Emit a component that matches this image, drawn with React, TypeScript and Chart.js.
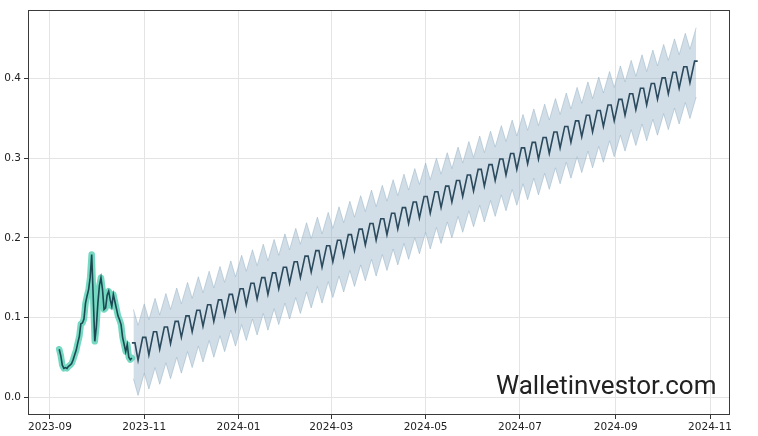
import React, { useEffect, useRef } from 'react';
import { Chart, registerables } from 'chart.js';

Chart.register(...registerables);

// ---- axis / tick data ----
const axisOrigin = '2023-09-01';
const xTickLabels = ['2023-09', '2023-11', '2024-01', '2024-03', '2024-05', '2024-07', '2024-09', '2024-11'];
const yTickValues = [0, 0.1, 0.2, 0.3, 0.4];

// ---- historical daily price (from 2023-09-07) ----
const histStart = '2023-09-07';
const histPrice = [
  0.060, 0.052, 0.040, 0.036, 0.037, 0.036, 0.0385, 0.040, 0.042, 0.047,
  0.053, 0.059, 0.068, 0.076, 0.092, 0.093, 0.098, 0.118, 0.127, 0.135,
  0.150, 0.179, 0.125, 0.070, 0.088, 0.118, 0.140, 0.150, 0.135, 0.110,
  0.112, 0.128, 0.133, 0.122, 0.114, 0.129, 0.120, 0.111, 0.102, 0.097,
  0.091, 0.075, 0.066, 0.057, 0.066, 0.050, 0.047, 0.049,
];

// ---- forecast, weekly cycle values (from 2023-10-24) ----
const forecastStart = '2023-10-24';
const weeklyHigh = [
  0.068, 0.075, 0.082, 0.088, 0.095, 0.102, 0.109, 0.116, 0.122, 0.129,
  0.136, 0.143, 0.150, 0.156, 0.163, 0.170, 0.177, 0.184, 0.190, 0.197,
  0.204, 0.211, 0.218, 0.224, 0.231, 0.238, 0.245, 0.252, 0.258, 0.265,
  0.272, 0.279, 0.286, 0.292, 0.299, 0.306, 0.313, 0.320, 0.326, 0.333,
  0.340, 0.347, 0.354, 0.360, 0.367, 0.374, 0.381, 0.388, 0.394, 0.401,
  0.408, 0.415, 0.422,
];
const weeklyLow = [
  0.046, 0.053, 0.060, 0.067, 0.075, 0.082, 0.089, 0.095, 0.102, 0.109,
  0.116, 0.123, 0.129, 0.136, 0.143, 0.150, 0.157, 0.163, 0.170, 0.177,
  0.184, 0.191, 0.197, 0.204, 0.211, 0.218, 0.225, 0.231, 0.238, 0.245,
  0.252, 0.259, 0.265, 0.272, 0.279, 0.286, 0.293, 0.299, 0.306, 0.313,
  0.320, 0.327, 0.333, 0.340, 0.347, 0.354, 0.361, 0.367, 0.374, 0.381,
  0.388, 0.395,
];
const upperHigh = [
  0.110, 0.117, 0.124, 0.130, 0.137, 0.144, 0.151, 0.158, 0.164, 0.171,
  0.178, 0.185, 0.192, 0.198, 0.205, 0.212, 0.219, 0.226, 0.232, 0.239,
  0.246, 0.253, 0.260, 0.266, 0.273, 0.280, 0.287, 0.294, 0.300, 0.307,
  0.314, 0.321, 0.328, 0.334, 0.341, 0.348, 0.355, 0.362, 0.368, 0.375,
  0.382, 0.389, 0.396, 0.402, 0.409, 0.416, 0.423, 0.430, 0.436, 0.443,
  0.450, 0.457, 0.464,
];
const upperLow = [
  0.090, 0.097, 0.103, 0.110, 0.117, 0.124, 0.131, 0.137, 0.144, 0.151,
  0.158, 0.165, 0.171, 0.178, 0.185, 0.192, 0.199, 0.205, 0.212, 0.219,
  0.226, 0.233, 0.239, 0.246, 0.253, 0.260, 0.267, 0.273, 0.280, 0.287,
  0.294, 0.301, 0.307, 0.314, 0.321, 0.328, 0.335, 0.341, 0.348, 0.355,
  0.362, 0.369, 0.375, 0.382, 0.389, 0.396, 0.403, 0.409, 0.416, 0.423,
  0.430, 0.437,
];
const lowerHigh = [
  0.023, 0.030, 0.037, 0.043, 0.050, 0.057, 0.064, 0.071, 0.077, 0.084,
  0.091, 0.098, 0.105, 0.111, 0.118, 0.125, 0.132, 0.139, 0.145, 0.152,
  0.159, 0.166, 0.173, 0.179, 0.186, 0.193, 0.200, 0.207, 0.213, 0.220,
  0.227, 0.234, 0.241, 0.247, 0.254, 0.261, 0.268, 0.275, 0.281, 0.288,
  0.295, 0.302, 0.309, 0.315, 0.322, 0.329, 0.336, 0.343, 0.349, 0.356,
  0.363, 0.370, 0.377,
];
const lowerLow = [
  0.002, 0.010, 0.016, 0.023, 0.030, 0.037, 0.044, 0.050, 0.057, 0.064,
  0.071, 0.078, 0.084, 0.091, 0.098, 0.105, 0.112, 0.118, 0.125, 0.132,
  0.139, 0.146, 0.152, 0.159, 0.166, 0.173, 0.180, 0.186, 0.193, 0.200,
  0.207, 0.214, 0.220, 0.227, 0.234, 0.241, 0.248, 0.254, 0.261, 0.268,
  0.275, 0.282, 0.288, 0.295, 0.302, 0.309, 0.316, 0.322, 0.329, 0.336,
  0.343, 0.350,
];

const watermark = 'Walletinvestor.com';

// ---- helpers ----
const DAY = 86400000;
const dayOf = (iso: string) =>
  (Date.parse(iso + 'T00:00:00Z') - Date.parse(axisOrigin + 'T00:00:00Z')) / DAY;

function buildData() {
  const h0 = dayOf(histStart);
  const hist = histPrice.map((v, i) => ({ x: h0 + i, y: v }));
  const f0 = dayOf(forecastStart);
  const center: { x: number; y: number }[] = [];
  const upper: { x: number; y: number }[] = [];
  const lower: { x: number; y: number }[] = [];
  weeklyHigh.forEach((v, k) => {
    if (k > 0) {
      center.push({ x: f0 + 7 * k - 3, y: weeklyLow[k - 1] });
      upper.push({ x: f0 + 7 * k - 3, y: upperLow[k - 1] });
      lower.push({ x: f0 + 7 * k - 3, y: lowerLow[k - 1] });
    }
    center.push({ x: f0 + 7 * k, y: v });
    center.push({ x: f0 + 7 * k + 2, y: v });
    upper.push({ x: f0 + 7 * k + 1, y: upperHigh[k] });
    lower.push({ x: f0 + 7 * k + 1, y: lowerHigh[k] });
  });
  return { hist, center, upper, lower };
}

const framePlugin = {
  id: 'frameAndMark',
  afterDraw(chart: any) {
    const { ctx, chartArea } = chart;
    ctx.save();
    ctx.strokeStyle = '#3a3a3a';
    ctx.lineWidth = 1;
    ctx.strokeRect(
      Math.round(chartArea.left) + 0.5,
      Math.round(chartArea.top) + 0.5,
      Math.round(chartArea.right - chartArea.left) - 1,
      Math.round(chartArea.bottom - chartArea.top) - 1
    );
    ctx.fillStyle = '#222222';
    ctx.font = '26px Roboto';
    ctx.textBaseline = 'alphabetic';
    ctx.textAlign = 'left';
    ctx.fillText(watermark, 496, 394);
    ctx.restore();
  },
};

export default function App() {
  const ref = useRef<HTMLCanvasElement>(null);
  useEffect(() => {
    if (!ref.current) return;
    const { hist, center, upper, lower } = buildData();
    const tickFont = { family: 'DejaVu Sans', size: 10.5 };
    const chart = new Chart(ref.current, {
      type: 'line',
      data: {
        datasets: [
          {
            data: hist,
            borderColor: '#1b4852',
            borderWidth: 1.6,
            pointRadius: 0,
            fill: false,
            order: 0,
          },
          {
            data: hist,
            borderColor: 'rgba(82,206,178,0.8)',
            borderWidth: 6.5,
            pointRadius: 0,
            fill: false,
            order: 1,
            borderJoinStyle: 'round',
            borderCapStyle: 'round',
          },
          {
            data: center,
            borderColor: '#2b4a5d',
            borderWidth: 1.6,
            pointRadius: 0,
            fill: false,
            order: 2,
          },
          {
            data: upper,
            borderColor: 'rgba(150,178,198,0.5)',
            borderWidth: 1,
            backgroundColor: 'rgba(140,172,196,0.40)',
            pointRadius: 0,
            fill: '+1',
            order: 3,
          },
          {
            data: lower,
            borderColor: 'rgba(150,178,198,0.5)',
            borderWidth: 1,
            pointRadius: 0,
            fill: false,
            order: 4,
          },
        ],
      } as any,
      options: {
        animation: false,
        responsive: false,
        devicePixelRatio: 1,
        events: [],
        layout: { padding: { top: 10, right: 28, left: 0, bottom: 0 } },
        elements: { line: { tension: 0 } },
        plugins: { legend: { display: false }, tooltip: { enabled: false } },
        scales: {
          x: {
            type: 'linear',
            min: -14.2,
            max: 439.9,
            afterFit: (s: any) => {
              s.height = 21;
            },
            afterBuildTicks: (s: any) => {
              s.ticks = xTickLabels.map((l) => ({ value: dayOf(l + '-01') }));
            },
            ticks: {
              autoSkip: false,
              maxRotation: 0,
              padding: 2,
              color: '#222',
              font: tickFont,
              callback: (v: any) => {
                const i = xTickLabels.findIndex((l) => Math.abs(dayOf(l + '-01') - v) < 0.01);
                return i >= 0 ? xTickLabels[i] : '';
              },
            },
            grid: { color: '#e4e4e4', tickColor: '#333', tickLength: 4, lineWidth: 1 },
            border: { display: false },
          },
          y: {
            type: 'linear',
            min: -0.0226,
            max: 0.4863,
            afterFit: (s: any) => {
              s.width = 28;
            },
            afterBuildTicks: (s: any) => {
              s.ticks = yTickValues.map((v) => ({ value: v }));
            },
            ticks: {
              padding: 3,
              color: '#222',
              font: tickFont,
              callback: (v: any) => Number(v).toFixed(1),
            },
            grid: { color: '#e4e4e4', tickColor: '#333', tickLength: 4, lineWidth: 1 },
            border: { display: false },
          },
        },
      } as any,
      plugins: [framePlugin],
    });
    return () => chart.destroy();
  }, []);
  return (
    <div style={{ position: 'fixed', left: 0, top: 0, width: 758, height: 436, background: '#fff' }}>
      <canvas ref={ref} width={758} height={436} style={{ display: 'block', width: 758, height: 436 }} />
    </div>
  );
}
